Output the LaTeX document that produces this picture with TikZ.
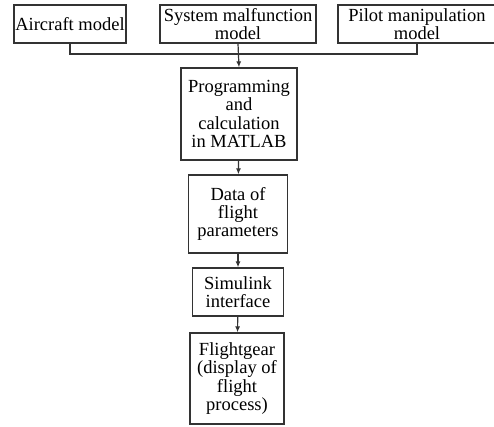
\documentclass[tikz,border=0pt]{standalone}
\usepackage{fontspec}
\setmainfont{Liberation Serif}
\usepackage{tikz}
\usetikzlibrary{arrows.meta}

\begin{document}
\begin{tikzpicture}[x=1pt,y=1pt,>={Latex[length=6pt,width=5pt]},
  box/.style={draw=black!80,line width=1.3pt,rectangle,inner sep=0pt,align=center,
    font=\fontsize{18.5}{18.3}\selectfont}]
\useasboundingbox (0,0) rectangle (494,-427);
% input models
\node[box,minimum width=112,minimum height=38](air)at(70,-24){Aircraft model};
\node[box,minimum width=156,minimum height=38](sys)at(238,-24){System malfunction\\model};
\node[box,minimum width=158,minimum height=38](pil)at(417,-24){Pilot manipulation\\model};
% chain
\node[box,minimum width=116,minimum height=92](prog)at(239,-114){Programming\\and\\calculation\\in MATLAB};
\node[box,minimum width=99,minimum height=78](data)at(238,-214){Data of\\flight\\parameters};
\node[box,minimum width=91,minimum height=48](sim)at(238,-292){Simulink\\interface};
\node[box,minimum width=94,minimum height=91](fg)at(237,-378.5){Flightgear\\(display of\\flight\\process)};
\coordinate(bus)at(238,-54);
\draw[line width=1.2pt,black!80](air.south)|-(bus)-|(pil.south);
\draw[->,line width=1.2pt,black!80](sys.south)--(prog.north);
\draw[->,line width=1.2pt,black!80](prog)--(data);
\draw[->,line width=1.2pt,black!80](data)--(sim);
\draw[->,line width=1.2pt,black!80](sim)--(fg);
\end{tikzpicture}
\end{document}
